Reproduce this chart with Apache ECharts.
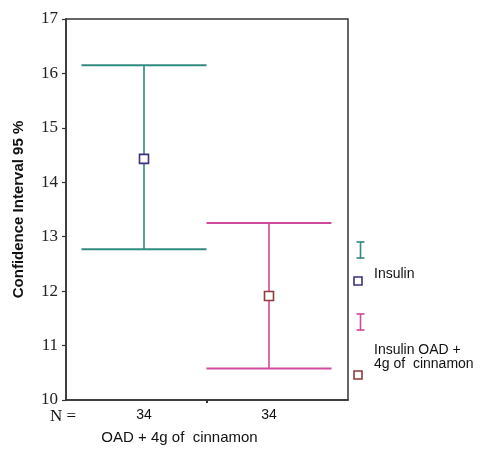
<!DOCTYPE html>
<html>
<head>
<meta charset="utf-8">
<script src="https://cdn.jsdelivr.net/npm/echarts@6/dist/echarts.min.js"></script>
<style>html,body{margin:0;padding:0;background:#fff}#c{width:484px;height:450px}</style>
</head>
<body>
<div id="c"></div>
<script>
// ---- data ----
const groups = ['Insulin', 'Insulin OAD + 4g of  cinnamon'];
const upper = [16.15, 13.25];
const lower = [12.77, 10.58];
const means = [14.43, 11.91];
const nValues = ['34', '34'];
const yTicks = [10, 11, 12, 13, 14, 15, 16, 17];
const barColors = ['#2f8a80', '#cf4a9c'];
const meanColors = ['#3f2f7e', '#8c3a3a'];

const chart = echarts.init(document.getElementById('c'), null, {renderer: 'canvas'});

const option = {
  animation: false,
  backgroundColor: '#fff',
  grid: {left: 66, right: 136, top: 19, bottom: 46, show: true, borderColor: '#333', borderWidth: 1.5, backgroundColor: 'transparent'},
  xAxis: {
    type: 'value', min: -0.624, max: 1.632,
    splitLine: {show: false},
    axisLine: {show: true, onZero: false, lineStyle: {color: '#333', width: 1.5}},
    axisTick: {show: true, customValues: [0.5], length: 3, lineStyle: {color: '#333', width: 2}},
    axisLabel: {show: true, customValues: [0, 1], margin: 8, color: '#111', fontFamily: 'Arial, Liberation Sans', fontSize: 14,
      formatter: v => nValues[Math.round(v)]},
    name: 'OAD + 4g of  cinnamon', nameLocation: 'middle', nameGap: 30,
    nameTextStyle: {color: '#111', fontFamily: 'Arial, Liberation Sans', fontSize: 15, padding: [0, 55, 0, 0]}
  },
  yAxis: {
    type: 'value', min: yTicks[0], max: yTicks[yTicks.length - 1], interval: 1,
    splitLine: {show: false},
    axisLine: {show: true, onZero: false, lineStyle: {color: '#333', width: 1.5}},
    axisTick: {show: true, length: 4, lineStyle: {color: '#333', width: 1.2}},
    axisLabel: {margin: 8, color: '#222', fontFamily: '"Liberation Serif", "Times New Roman", serif', fontSize: 17},
    name: 'Confidence Interval 95 %', nameLocation: 'middle', nameGap: 40,
    nameTextStyle: {color: '#111', fontFamily: 'Arial, Liberation Sans', fontSize: 15, fontWeight: 'bold'}
  },
  series: [{
    type: 'custom',
    data: groups.map((g, i) => [i, lower[i], upper[i], means[i]]),
    encode: {x: 0, y: [1, 2, 3]},
    renderItem: function (params, api) {
      const i = api.value(0);
      const lo = api.coord([i, api.value(1)]);
      const hi = api.coord([i, api.value(2)]);
      const m = api.coord([i, api.value(3)]);
      const left = api.coord([i - 0.5, 12])[0];
      const right = api.coord([i + 0.5, 12])[0];
      const c = barColors[i];
      const s = 9;
      return {
        type: 'group',
        children: [
          {type: 'line', shape: {x1: hi[0], y1: hi[1], x2: lo[0], y2: lo[1]}, style: {stroke: c, lineWidth: 1.6}},
          {type: 'line', shape: {x1: left, y1: hi[1], x2: right, y2: hi[1]}, style: {stroke: c, lineWidth: 2}},
          {type: 'line', shape: {x1: left, y1: lo[1], x2: right, y2: lo[1]}, style: {stroke: c, lineWidth: 2}},
          {type: 'rect', shape: {x: m[0] - s / 2, y: m[1] - s / 2, width: s, height: s}, style: {fill: '#fff', stroke: meanColors[i], lineWidth: 1.6}}
        ]
      };
    }
  }],
  graphic: [
    {type: 'text', left: 50, top: 408, style: {text: 'N =', fill: '#111', font: '17px "Liberation Serif", "Times New Roman", serif'}},
    // legend: group 1
    {type: 'group', left: 354, top: 239, children: [
      {type: 'line', shape: {x1: 4, y1: 0, x2: 4, y2: 17}, style: {stroke: barColors[0], lineWidth: 1.6}},
      {type: 'line', shape: {x1: 0, y1: 0.5, x2: 8, y2: 0.5}, style: {stroke: barColors[0], lineWidth: 1.6}},
      {type: 'line', shape: {x1: 0, y1: 16.5, x2: 8, y2: 16.5}, style: {stroke: barColors[0], lineWidth: 1.6}}
    ]},
    {type: 'rect', shape: {x: 354, y: 277, width: 8, height: 8}, style: {fill: '#fff', stroke: meanColors[0], lineWidth: 1.6}},
    {type: 'text', left: 374, top: 267, style: {text: groups[0], fill: '#111', font: '14px Arial, "Liberation Sans"'}},
    // legend: group 2
    {type: 'group', left: 354, top: 311, children: [
      {type: 'line', shape: {x1: 4, y1: 0, x2: 4, y2: 17}, style: {stroke: barColors[1], lineWidth: 1.6}},
      {type: 'line', shape: {x1: 0, y1: 0.5, x2: 8, y2: 0.5}, style: {stroke: barColors[1], lineWidth: 1.6}},
      {type: 'line', shape: {x1: 0, y1: 16.5, x2: 8, y2: 16.5}, style: {stroke: barColors[1], lineWidth: 1.6}}
    ]},
    {type: 'rect', shape: {x: 354, y: 371, width: 8, height: 8}, style: {fill: '#fff', stroke: meanColors[1], lineWidth: 1.6}},
    {type: 'text', left: 374, top: 343, style: {text: 'Insulin OAD +\n4g of  cinnamon', fill: '#111', font: '14px Arial, "Liberation Sans"', lineHeight: 14}}
  ]
};
chart.setOption(option);
</script>
</body>
</html>
